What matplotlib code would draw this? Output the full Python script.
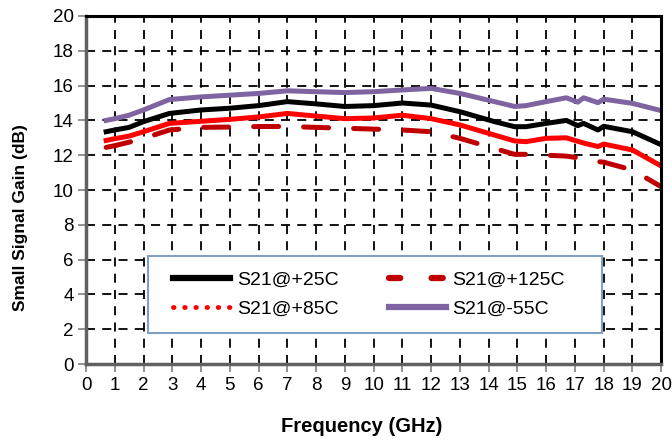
import matplotlib

matplotlib.use("Agg")
import matplotlib.pyplot as plt
from matplotlib.lines import Line2D
from matplotlib.patches import Rectangle

# ==========================================
# Data
# ==========================================

freq_ghz = [0.7, 1.0, 1.5, 2.0, 2.9, 4.0, 5.0, 6.0, 7.0, 8.0, 9.0, 10.0, 11.0,
            12.0, 13.0, 14.2, 14.9, 15.3, 16.0, 16.7, 17.1, 17.3, 17.8, 18.0,
            19.0, 20.0]

s21_25c = [13.35, 13.45, 13.6, 13.93, 14.4, 14.6, 14.7, 14.85, 15.08, 14.95,
           14.8, 14.85, 15.0, 14.88, 14.5, 13.93, 13.64, 13.64, 13.83, 14.0,
           13.7, 13.83, 13.45, 13.66, 13.35, 12.6]

s21_85c = [12.85, 12.95, 13.1, 13.35, 13.83, 13.95, 14.06, 14.2, 14.4, 14.25,
           14.1, 14.14, 14.3, 14.1, 13.74, 13.16, 12.82, 12.78, 12.97, 13.0,
           12.8, 12.7, 12.5, 12.64, 12.3, 11.38]

s21_125c = [12.45, 12.55, 12.75, 12.97, 13.45, 13.6, 13.62, 13.65, 13.65, 13.6,
            13.55, 13.5, 13.45, 13.35, 12.97, 12.39, 12.05, 12.05, 12.0, 11.95,
            11.85, 11.72, 11.63, 11.6, 11.15, 10.19]

s21_m55c = [14.0, 14.1, 14.3, 14.6, 15.2, 15.35, 15.45, 15.55, 15.7, 15.65,
            15.6, 15.65, 15.75, 15.84, 15.55, 15.08, 14.8, 14.85, 15.08, 15.3,
            15.05, 15.3, 15.02, 15.22, 14.98, 14.56]

# ==========================================
# Plot
# ==========================================

plt.rcParams["font.family"] = ["Liberation Sans", "DejaVu Sans"]

fig = plt.figure(figsize=(6.72, 4.44), dpi=100, facecolor="white")
ax = fig.add_axes([0.128, 0.180, 0.856, 0.784])

lw = 3.6
ax.plot(freq_ghz, s21_125c, color="#c00000", linewidth=lw, dashes=(5, 5),
        solid_capstyle="round", dash_capstyle="round")
ax.plot(freq_ghz, s21_85c, color="#ff0000", linewidth=lw)
ax.plot(freq_ghz, s21_25c, color="black", linewidth=lw)
ax.plot(freq_ghz, s21_m55c, color="#8064a2", linewidth=lw)

ax.set_xlim(0, 20)
ax.set_ylim(0, 20)
ax.set_xticks(range(0, 21, 1))
ax.set_yticks(range(0, 21, 2))
ax.grid(True, color="black", linestyle=(0, (5, 4)), linewidth=1.3)
ax.set_axisbelow(True)

ax.tick_params(axis="both", labelsize=13.5, direction="out", length=6,
               width=1.2, color="#808080", pad=3)

ax.set_xlabel("Frequency (GHz)", fontsize=14.5, fontweight="bold")
ax.set_ylabel("Small Signal Gain (dB)", fontsize=12.5, fontweight="bold")
ax.xaxis.set_label_coords(0.48, -0.152)
ax.yaxis.set_label_coords(-0.101, 0.42)

for side in ["top", "right"]:
    ax.spines[side].set_color("black")
    ax.spines[side].set_linewidth(2.2)
for side in ["left", "bottom"]:
    ax.spines[side].set_color("#606060")
    ax.spines[side].set_linewidth(2.5)

# Legend frame drawn separately (its padding is lopsided in the reference)
ax.add_patch(Rectangle((0.1078, 0.089), 0.7896, 0.2213, transform=ax.transAxes,
                       facecolor="white", edgecolor="#7f9fc5", linewidth=1.5,
                       zorder=4.5))

# Proxy handles; column-major order gives rows (+25C, +125C), (+85C, -55C)
handles = [
    Line2D([], [], color="black", linewidth=4.5),
    Line2D([], [], color="#ff0000", linewidth=3.5, linestyle=(0, (0.1, 2.2)),
           dash_capstyle="round"),
    Line2D([], [], color="#c00000", linewidth=4.5, dashes=(1.8, 5.0),
           dash_capstyle="round"),
    Line2D([], [], color="#8064a2", linewidth=4.5),
]
labels = ["S21@+25C", "S21@+85C", "S21@+125C", "S21@-55C"]
leg = ax.legend(handles, labels, ncol=2, loc="center left",
                bbox_to_anchor=(0.1513, 0.1997), frameon=False,
                fontsize=14, handlelength=2.93, handletextpad=0.36,
                columnspacing=2.57, borderaxespad=0, borderpad=0,
                labelspacing=0.6)
leg.set_zorder(5)

fig.savefig("out.png", dpi=100, facecolor="white")
